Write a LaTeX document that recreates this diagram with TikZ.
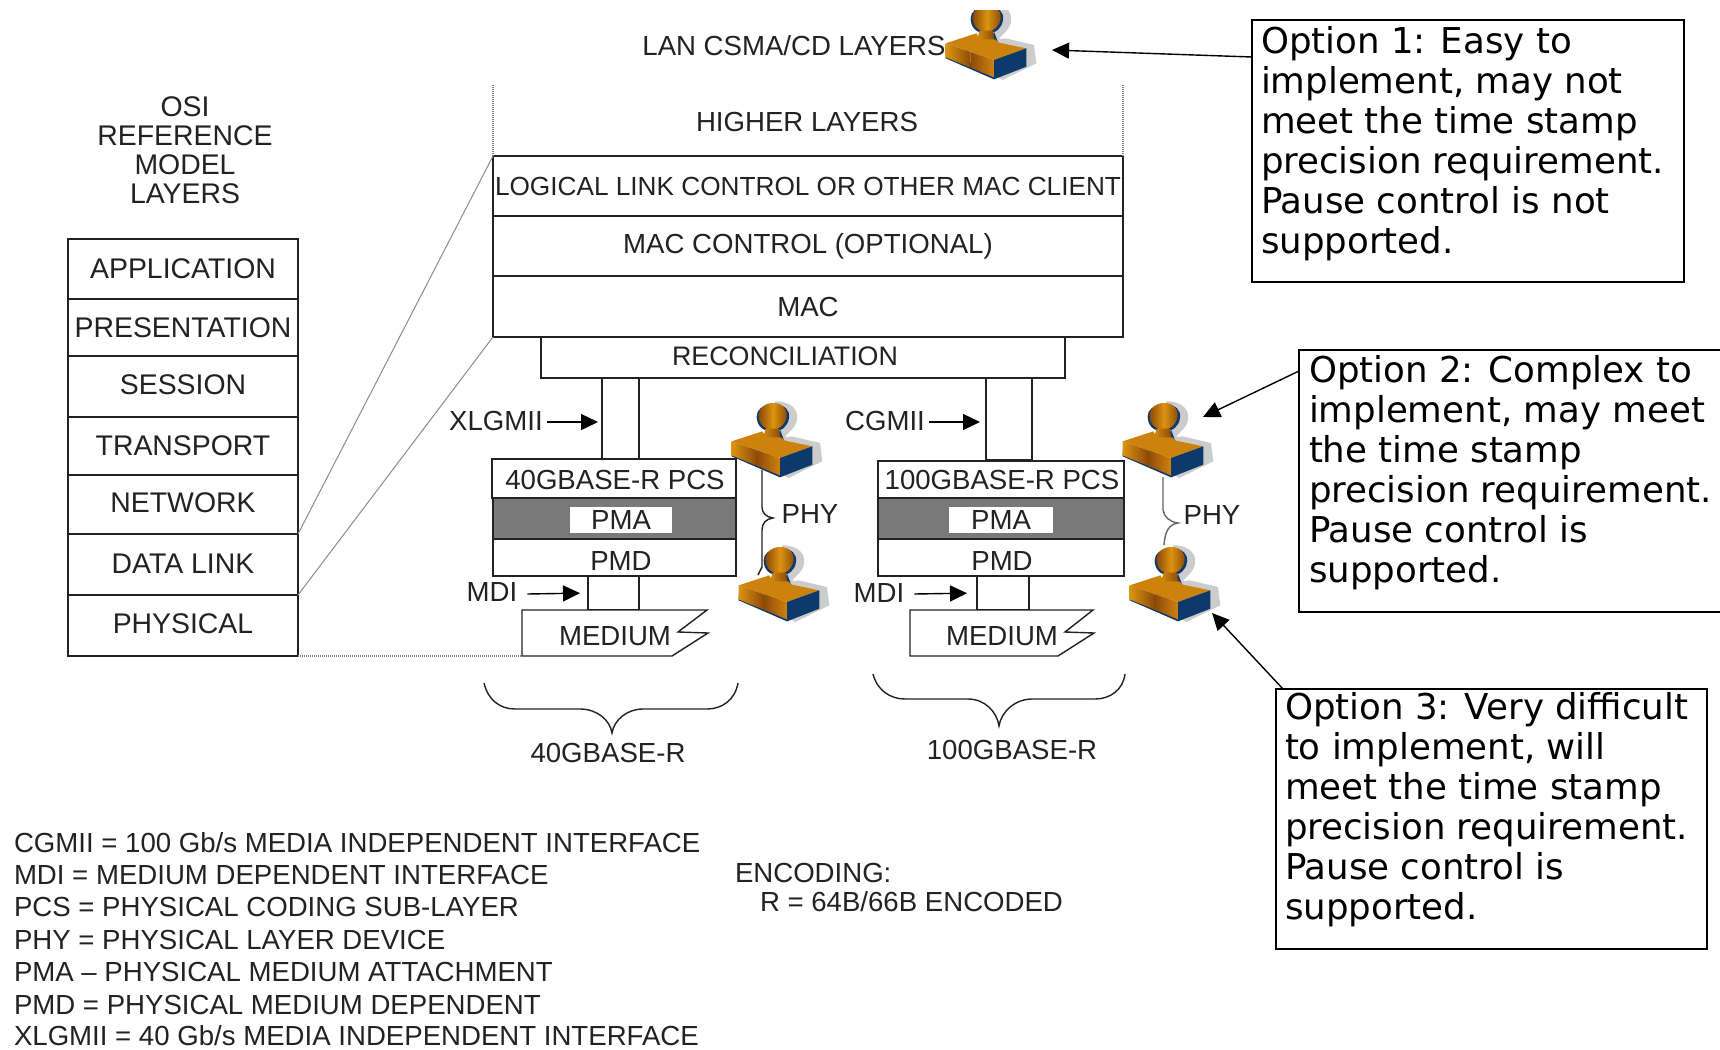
\documentclass[tikz,border=0pt]{standalone}
\usepackage{fontspec}
\setmainfont{Liberation Sans}
\newfontfamily\optfont{DejaVu Sans}
\usetikzlibrary{arrows.meta}
\definecolor{ink}{HTML}{222222}
\definecolor{or1}{HTML}{DB9410}
\definecolor{or2}{HTML}{8E4A08}
\definecolor{or3}{HTML}{CE820E}
\definecolor{nv}{HTML}{0B3A6B}
\definecolor{shd}{HTML}{CCCCCC}
\tikzset{
  px/.style={x=0.5pt,y=-0.5pt},
  boxn/.style={draw=ink,line width=0.7pt,inner sep=0pt,outer sep=0pt,text=ink,font=\fontsize{13.8}{15}\selectfont},
  osibox/.style={boxn,font=\fontsize{14.2}{15}\selectfont},
  lbl/.style={inner sep=0pt,outer sep=0pt,text=ink,font=\fontsize{13.8}{15}\selectfont},
  legend/.style={lbl,anchor=west},
  ptr/.style={draw=black,line width=0.7pt,-{Triangle[length=8.5pt,width=8pt]}},
  optbox/.style={draw=black,line width=0.7pt,inner sep=0pt,outer sep=0pt,fill=white},
  opttext/.style={inner sep=0pt,outer sep=0pt,anchor=north west,align=left,text=black,font=\optfont\fontsize{17.8}{20}\selectfont},
  thin grey/.style={draw=gray!90,line width=0.5pt},
  dotgrey/.style={draw=gray,line width=0.9pt,dash pattern=on 0.6pt off 0.4pt},
  wire/.style={draw=ink,line width=0.7pt}
}
\newcommand\bx[7][0]{%
  \pgfmathsetmacro\bw{(#5-#3)*0.5}\pgfmathsetmacro\bh{(#6-#4)*0.5}%
  \node[osibox,minimum width=\bw pt,minimum height=\bh pt] (#2) at ({(#3+#5)/2},{(#4+#6)/2}) {\raisebox{#1pt}{#7}};}
\newcommand\by[7][0]{%
  \pgfmathsetmacro\bw{(#5-#3)*0.5}\pgfmathsetmacro\bh{(#6-#4)*0.5}%
  \node[boxn,minimum width=\bw pt,minimum height=\bh pt] (#2) at ({(#3+#5)/2},{(#4+#6)/2}) {\raisebox{#1pt}{#7}};}
\newcommand\stampAt[2]{%
  \begin{scope}[shift={(#1,#2)},x=0.16667pt,y=-0.16667pt]
    \fill[shd] (150,10) .. controls (205,10) and (222,40) .. (215,70) .. controls (208,95) and (185,105) .. (180,118) -- (200,115) -- (285,135) -- (292,190) -- (190,240) -- (165,225) -- (165,60) -- cycle;
    \fill[nv] (145,20) .. controls (180,20) and (195,35) .. (192,60) .. controls (188,85) and (172,100) .. (142,100) .. controls (112,100) and (95,82) .. (95,55) .. controls (95,35) and (112,20) .. (145,20) -- cycle;
    \shade[left color=or2,right color=or2,middle color=or1] (145,15) .. controls (172,15) and (187,32) .. (185,55) .. controls (182,78) and (165,95) .. (142,95) .. controls (118,95) and (101,78) .. (101,52) .. controls (101,32) and (118,15) .. (145,15) -- cycle;
    \fill[nv] (165,95) -- (180,135) -- (150,135) -- cycle;
    \shade[left color=or1,right color=or2] (122,92) -- (163,92) -- (166,135) -- (108,135) -- cycle;
    \fill[or3] (20,130) -- (112,100) -- (122,118) -- (168,118) -- (180,128) -- (262,145) -- (165,180) -- cycle;
    \fill[nv] (20,175) -- (165,238) -- (165,215) -- (20,160) -- cycle;
    \shade[left color=or1,right color=or2] (20,130) -- (95,156) -- (95,203) -- (20,172) -- cycle;
    \shade[left color=or2,right color=or3] (95,156) -- (165,180) -- (165,232) -- (95,203) -- cycle;
    \fill[nv] (165,180) -- (262,145) -- (262,200) -- (165,238) -- cycle;
  \end{scope}}
\begin{document}
\begin{tikzpicture}[px]
\useasboundingbox (0,0) rectangle (1720,1050);
\fill[white] (0,0) rectangle (1720,1050);

% OSI column
\node[lbl,align=center,font=\fontsize{14.2}{14.5}\selectfont] (osititle) at (185,150) {OSI\\REFERENCE\\MODEL\\LAYERS};
\bx{osiA}{68}{239}{298}{299}{APPLICATION}
\bx{osiP}{68}{299}{298}{356}{PRESENTATION}
\bx[2.2]{osiS}{68}{356}{298}{417}{SESSION}
\bx{osiT}{68}{417}{298}{475}{TRANSPORT}
\bx[2.2]{osiN}{68}{475}{298}{534}{NETWORK}
\bx[1.1]{osiD}{68}{534}{298}{595}{DATA LINK}
\bx[2.2]{osiH}{68}{595}{298}{656}{PHYSICAL}

% main stack
\node[lbl] (higher) at (807,122) {HIGHER LAYERS};
\by{llc}{493}{156}{1123}{216}{}
\node[lbl,font=\fontsize{13.1}{15}\selectfont] (llct) at (808,186) {LOGICAL LINK CONTROL OR OTHER MAC CLIENT};
\by[-0.5]{macc}{493}{216}{1123}{276}{MAC CONTROL (OPTIONAL)}
\by{mac}{493}{276}{1123}{337}{MAC}
\by{recon}{541}{337}{1065}{378}{}
\node[lbl,font=\fontsize{13.4}{15}\selectfont] (recont) at (785,356) {RECONCILIATION};
\coordinate (hl) at (493,85);
\coordinate (hr) at (1123,85);
\draw[dotgrey] (hl) -- (llc.north west);
\draw[dotgrey] (hr) -- (llc.north east);
\draw[thin grey] (osiD.north east) -- (llc.north west);
\draw[thin grey] (osiD.south east) -- (mac.south west);

% 40G column
\by{xg}{602}{378}{639}{459}{}
\by[-1]{pcsa}{492}{459}{736}{498}{}
\node[lbl] (pcsat) at (615,480) {40GBASE-R PCS};
\node[fill=gray!95!black,draw=ink,line width=0.7pt,inner sep=0pt,outer sep=0pt,minimum width=121.5pt,minimum height=20.5pt] (gra) at (614.5,518.5) {};
\node[lbl,fill=white,minimum width=51pt,minimum height=13pt] (pmaa) at (621,520) {PMA};
\by{pmda}{493}{539}{736}{576}{}
\node[lbl] (pmdat) at (621,561) {PMD};
\draw[ink,line width=1.3pt] (gra.south west) -- (gra.south east);
\by{mdia}{588}{576}{639}{610}{}
\draw[wire,fill=white] (522,610) -- (707,610) -- (678,632) -- (708,633) -- (672,656) -- (522,656) -- cycle;
\coordinate (mas) at (522,656);
\node[lbl] (meda) at (615,636) {MEDIUM};
\draw[dotgrey,line width=1.2pt] (osiH.south east) -- (mas);

% 100G column
\by{cg}{986}{378}{1032}{460}{}
\by{pcsb}{878}{461}{1124}{498}{}
\node[lbl] (pcsbt) at (1002,480) {100GBASE-R PCS};
\node[fill=gray!95!black,draw=ink,line width=0.7pt,inner sep=0pt,outer sep=0pt,minimum width=123pt,minimum height=20.5pt] (grb) at (1001,518.5) {};
\node[lbl,fill=white,minimum width=52pt,minimum height=13pt] (pmab) at (1001,520) {PMA};
\by{pmdb}{878}{539}{1124}{576}{}
\node[lbl] (pmdbt) at (1002,561) {PMD};
\by{mdib}{977}{576}{1029}{610}{}
\draw[wire,fill=white] (910,610) -- (1093,610) -- (1065,632) -- (1094,633) -- (1058,656) -- (910,656) -- cycle;
\node[lbl] (medb) at (1002,636) {MEDIUM};

% interface labels
\node[lbl] (xl) at (496,421) {XLGMII};
\draw[ptr,shorten >=2pt] (xl.east) ++(4,1) -- (xg.west |- 0,422);
\node[lbl] (cl) at (885,421) {CGMII};
\draw[ptr,shorten >=3pt] (cl.east) ++(4,1) -- (cg.west |- 0,422);
\node[lbl] (ml) at (492,592) {MDI};
\draw[ptr,shorten >=4pt] (ml.east) ++(10,2) -- (mdia.west);
\node[lbl] (mr) at (879,593) {MDI};
\draw[ptr,shorten >=5pt] (mr.east) ++(10,1) -- (mdib.west);

% braces
\draw[wire] (484,683) .. controls (488,700) and (500,709) .. (515,709) -- (580,709) .. controls (597,709) and (610,720) .. (612,733) .. controls (614,720) and (627,709) .. (643,709) -- (707,709) .. controls (722,709) and (735,700) .. (738,683);
\draw[wire] (873,674) .. controls (877,690) and (890,699) .. (905,699) -- (968,699) .. controls (985,699) and (997,712) .. (999,726) .. controls (1001,712) and (1015,699) .. (1032,699) -- (1095,699) .. controls (1110,699) and (1123,690) .. (1125,674);
\node[lbl] (ba) at (608,753) {40GBASE-R};
\node[lbl] (bb) at (1012,750) {100GBASE-R};
\draw[wire] (762,470) -- (762,507) .. controls (762,513) and (766,517) .. (773,518) .. controls (766,519) and (762,523) .. (762,530) -- (762,567) -- (758,575);
\draw[wire,draw=gray!80!black] (1163,477) -- (1163,510) .. controls (1164,517) and (1170,522) .. (1178,523) .. controls (1170,524) and (1165,530) .. (1164,545);
\node[lbl] (pa) at (810,514) {PHY};
\node[lbl] (pb) at (1212,515) {PHY};

% stamps
\stampAt{725}{398}
\stampAt{732}{542}
\stampAt{1116}{398}
\stampAt{1123}{542}
\node[lbl] (lan) at (794,46) {LAN CSMA/CD LAYERS};
\begin{scope}
  \clip (930,10) rectangle (1045,90);
  \stampAt{939}{0}
\end{scope}

% option boxes
\node[optbox,minimum width=216pt,minimum height=131pt] (opt1) at (1468,151) {};
\node[opttext] (opt1t) at (1261,26) {Option 1: Easy to\\implement, may not\\meet the time stamp\\precision requirement.\\Pause control is not\\supported.};
\node[inner sep=0pt,outer sep=0pt,fill=white,minimum width=210.5pt,minimum height=131pt] (opt2) at (1509.5,481) {};
\draw[draw=black,line width=0.7pt] (opt2.north east) -- (opt2.north west) -- (opt2.south west) -- (opt2.south east);
\node[opttext] (opt2t) at (1309,355) {Option 2: Complex to\\implement, may meet\\the time stamp\\precision requirement.\\Pause control is\\supported.};
\node[optbox,minimum width=215.5pt,minimum height=130pt] (opt3) at (1491.5,819) {};
\node[opttext] (opt3t) at (1285,692) {Option 3: Very difficult\\to implement, will\\meet the time stamp\\precision requirement.\\Pause control is\\supported.};
\coordinate (o1a) at (1252,57);
\coordinate (o1b) at (1052,50);
\coordinate (o2a) at (1299,371);
\coordinate (o2b) at (1203,417);
\coordinate (o3a) at (1283,689);
\coordinate (o3b) at (1212,613);
\draw[ptr] (o1a) -- (o1b);
\draw[ptr] (o2a) -- (o2b);
\draw[ptr] (o3a) -- (o3b);

% legend
\node[legend] (l1) at (14,843) {CGMII = 100 Gb/s MEDIA INDEPENDENT INTERFACE};
\node[legend] (l2) at (14,875) {MDI = MEDIUM DEPENDENT INTERFACE};
\node[legend] (l3) at (14,907) {PCS = PHYSICAL CODING SUB-LAYER};
\node[legend] (l4) at (14,940) {PHY = PHYSICAL LAYER DEVICE};
\node[legend] (l5) at (14,972) {PMA – PHYSICAL MEDIUM ATTACHMENT};
\node[legend] (l6) at (14,1005) {PMD = PHYSICAL MEDIUM DEPENDENT};
\node[legend] (l7) at (14,1036) {XLGMII = 40 Gb/s MEDIA INDEPENDENT INTERFACE};
\node[legend] (e1) at (735,873) {ENCODING:};
\node[legend] (e2) at (760,902) {R = 64B/66B ENCODED};
\end{tikzpicture}
\end{document}
